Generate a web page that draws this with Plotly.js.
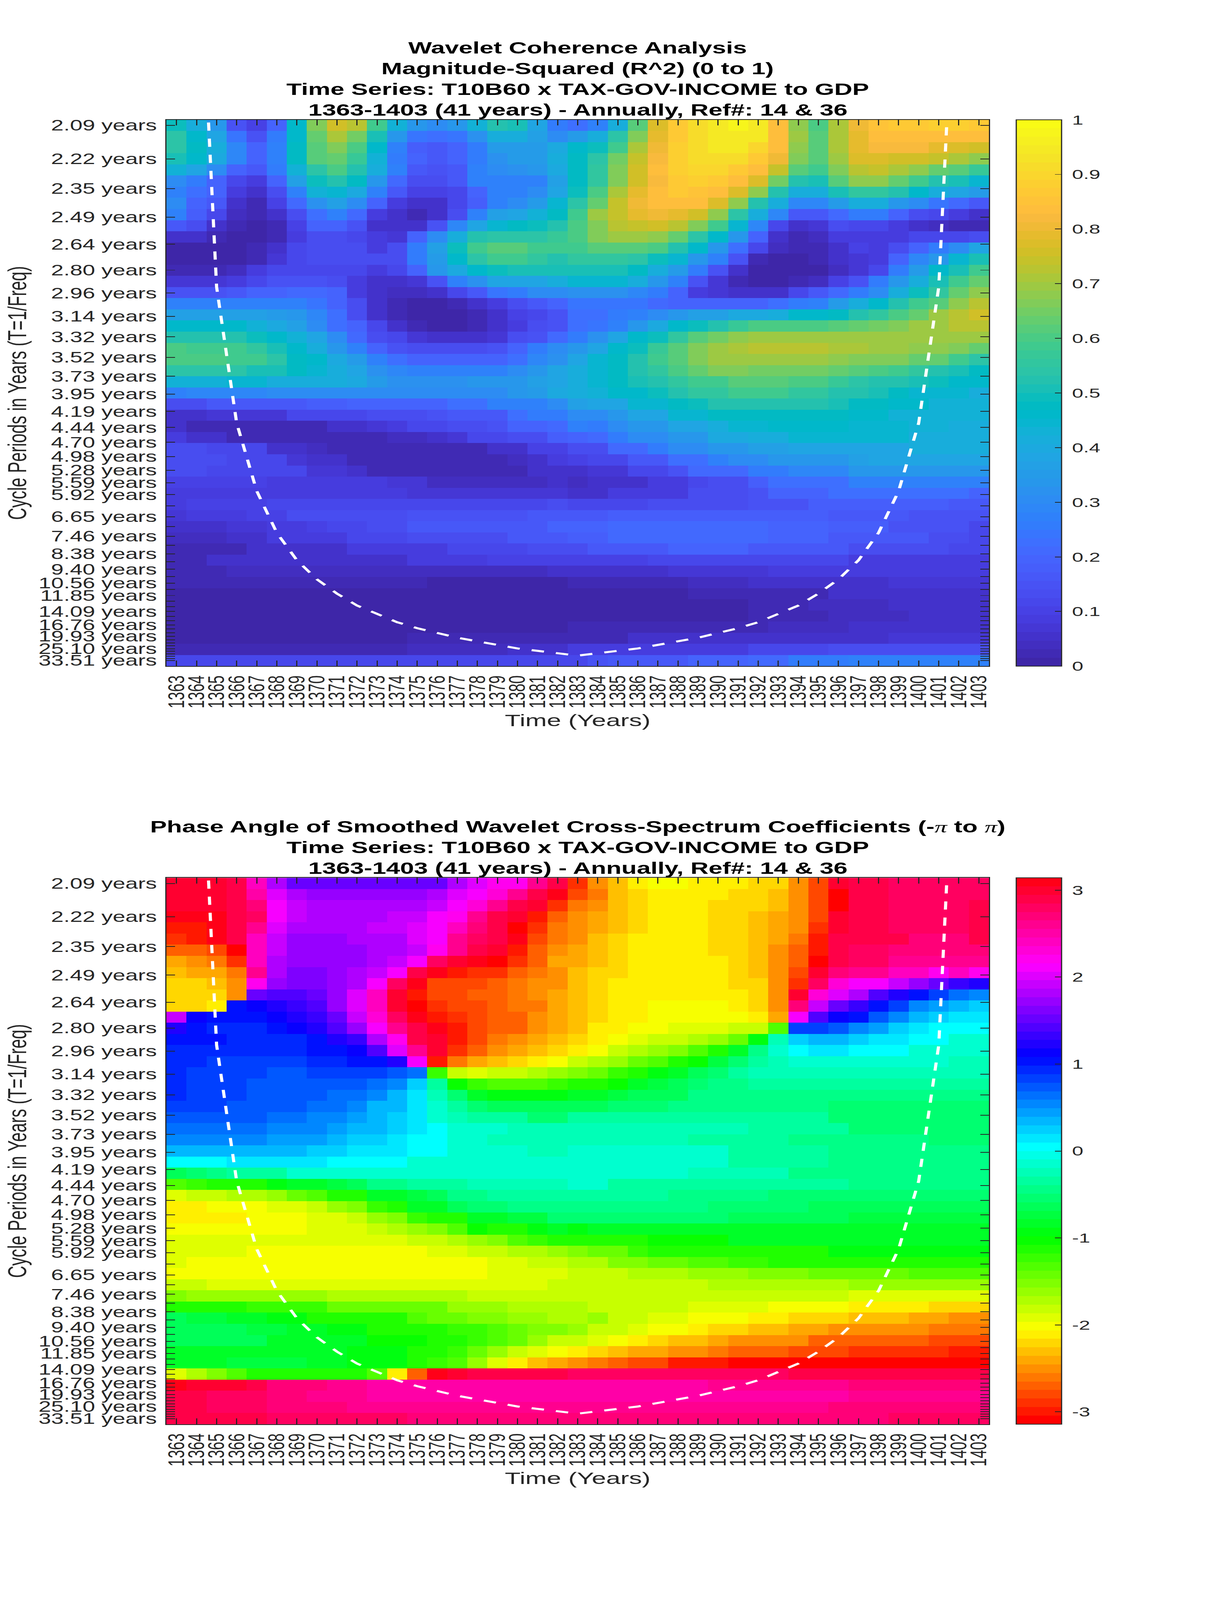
<!DOCTYPE html>
<html><head><meta charset="utf-8">
<script src="https://cdn.plot.ly/plotly-3.0.1.min.js"></script>
<style>html,body{margin:0;padding:0;background:#fff;overflow:hidden}#chart{transform-origin:0 0}</style></head>
<body><div id="chart" style="width:3125px;height:6252px"></div>
<script>
const years=[1363,1364,1365,1366,1367,1368,1369,1370,1371,1372,1373,1374,1375,1376,1377,1378,1379,1380,1381,1382,1383,1384,1385,1386,1387,1388,1389,1390,1391,1392,1393,1394,1395,1396,1397,1398,1399,1400,1401,1402,1403];
const periods=[2.09,2.22,2.35,2.49,2.64,2.80,2.96,3.14,3.32,3.52,3.73,3.95,4.19,4.44,4.70,4.98,5.28,5.59,5.92,6.27,6.65,7.04,7.46,7.90,8.38,8.88,9.40,9.96,10.56,11.19,11.85,12.55,13.30,14.09,14.93,15.82,16.76,17.76,18.81,19.93,21.12,22.37,23.70,25.10,26.60,28.18,29.85,31.63,33.51];
const labelledPeriods=[2.09,2.22,2.35,2.49,2.64,2.80,2.96,3.14,3.32,3.52,3.73,3.95,4.19,4.44,4.70,4.98,5.28,5.59,5.92,6.65,7.46,8.38,9.40,10.56,11.85,14.09,16.76,19.93,25.10,33.51];
const coiFreq=[0.686,0.686,0.343,0.229,0.172,0.137,0.114,0.098,0.086,0.076,0.069,0.062,0.057,0.053,0.049,0.046,0.043,0.040,0.038,0.036,0.034,0.036,0.038,0.040,0.043,0.046,0.049,0.053,0.057,0.062,0.069,0.076,0.086,0.098,0.114,0.137,0.172,0.229,0.343,0.686,0.686];
// Magnitude-squared coherence, in hundredths; rows run from period 2.09 down to 33.51
const coherencePct=[
[49,41,33,15,10,20,46,67,76,73,58,43,33,30,33,43,52,51,38,25,22,27,42,62,78,87,92,95,98,95,84,68,60,71,81,85,87,87,89,89,87],
[54,46,38,24,15,25,46,64,71,65,51,33,24,22,24,32,41,41,36,30,35,42,54,67,79,87,92,94,95,94,84,70,62,71,79,83,84,84,84,84,83],
[54,47,41,29,20,27,47,62,67,60,46,27,18,16,20,25,35,35,35,40,46,49,59,71,81,88,92,94,94,90,84,68,62,71,79,82,82,82,79,78,76],
[50,46,40,29,20,28,47,61,64,57,43,25,20,17,19,25,32,35,35,41,47,54,65,74,82,89,92,92,92,87,81,67,62,70,77,77,76,76,74,71,68],
[43,38,30,20,16,25,43,54,60,52,41,27,17,15,17,27,30,32,33,40,47,55,67,75,84,89,90,90,87,84,74,62,58,67,73,74,71,68,64,62,57],
[30,25,19,11,8,20,36,49,53,47,33,21,14,13,17,27,28,28,28,37,47,55,67,75,82,87,88,86,84,78,65,53,51,62,68,68,63,59,53,50,45],
[28,23,19,8,5,13,28,43,45,40,28,16,10,10,12,20,28,28,31,38,49,60,71,79,84,87,85,84,78,68,52,42,42,50,56,56,52,46,42,39,35],
[30,20,16,5,3,10,21,32,36,30,20,8,6,6,11,18,28,31,35,45,54,64,74,81,84,84,83,78,68,52,41,29,29,35,41,41,34,30,24,21,17],
[28,18,12,4,2,6,13,23,27,21,8,5,3,6,14,28,36,39,43,48,59,69,74,79,81,79,76,68,54,42,29,16,16,21,25,25,20,14,12,8,5],
[17,13,5,2,0,3,10,20,20,15,6,5,6,15,29,39,45,48,49,52,60,67,73,74,76,73,67,58,45,29,12,6,7,13,12,12,8,6,4,3,3],
[6,5,2,0,0,3,8,14,14,11,8,7,20,30,42,52,54,54,54,57,60,66,69,70,68,64,54,46,34,20,6,3,4,8,9,9,9,11,11,12,14],
[0,0,0,0,2,6,11,14,14,13,8,13,25,37,49,58,61,61,59,59,59,62,62,62,60,53,46,33,23,12,4,2,3,6,10,9,14,20,25,31,39],
[0,0,0,1,3,7,11,13,13,13,13,14,25,35,46,54,58,58,56,53,56,56,56,54,49,45,34,27,15,3,0,0,2,5,7,8,20,29,34,45,51],
[3,3,3,4,8,11,12,12,12,12,8,11,20,33,40,46,49,50,50,50,50,50,50,47,42,35,25,15,6,1,0,0,0,4,7,12,25,35,46,51,58],
[7,7,7,8,12,15,15,15,13,8,6,6,7,15,27,32,38,38,38,42,44,44,44,41,33,27,15,7,3,1,1,2,4,10,15,25,33,42,51,58,64],
[15,15,15,16,19,19,21,21,20,8,5,4,4,5,11,16,24,26,31,31,32,32,32,29,25,20,8,7,6,5,6,11,17,21,25,31,42,49,56,63,68],
[28,27,28,28,28,28,27,24,20,13,5,2,0,1,3,6,9,14,17,19,24,24,24,24,21,20,20,20,20,20,23,26,28,35,41,46,52,58,62,68,73],
[36,36,36,36,36,35,34,29,23,13,6,2,0,0,1,2,6,10,12,15,22,23,25,28,31,33,37,37,40,40,42,46,46,48,52,55,60,64,69,72,75],
[46,46,46,46,43,40,37,30,23,19,11,5,3,1,1,3,6,9,13,15,22,24,28,34,40,46,49,53,57,60,60,60,60,62,64,65,67,69,70,72,73],
[52,52,52,52,49,46,43,38,31,21,14,11,7,5,5,5,7,14,15,21,25,32,39,46,49,56,62,65,68,70,70,70,70,70,69,70,70,70,70,70,70],
[60,59,59,59,55,50,46,41,33,27,19,15,13,13,13,13,15,19,25,31,34,38,46,49,57,62,67,70,71,73,73,73,73,71,71,70,70,68,68,66,63],
[60,60,60,59,58,54,48,46,40,35,27,23,20,20,20,20,20,22,29,32,38,45,48,53,58,62,66,69,70,70,70,70,70,68,67,67,67,64,63,59,54],
[54,54,54,54,51,50,47,45,41,38,32,29,27,27,27,27,27,31,33,38,41,45,48,52,55,60,64,66,66,65,65,65,65,63,62,60,58,55,53,51,47],
[43,43,43,45,44,41,41,41,41,40,35,32,32,32,32,33,33,33,36,39,42,45,48,51,53,55,58,59,61,61,61,60,60,57,54,53,52,51,49,46,46],
[27,29,29,29,29,31,31,31,30,30,30,30,30,30,31,31,31,33,35,40,42,43,46,46,49,53,55,55,58,58,58,55,55,53,53,50,47,45,45,44,42],
[13,13,17,17,16,16,16,18,18,20,20,20,20,20,23,23,27,27,28,31,37,38,39,44,44,47,49,52,52,52,52,52,52,50,47,47,46,46,43,43,43],
[5,5,7,7,7,7,11,11,11,11,13,13,13,15,16,17,17,23,25,25,30,31,34,38,39,44,45,47,48,48,48,48,48,48,46,46,43,43,43,43,43],
[6,3,3,3,3,3,3,3,5,5,7,8,11,11,13,13,15,19,19,21,27,26,31,34,34,38,38,41,44,44,46,46,46,46,45,45,45,43,43,41,41],
[8,5,5,3,3,2,2,2,2,2,2,4,4,5,7,11,12,14,14,18,19,21,26,30,30,34,34,40,40,41,41,45,45,45,45,45,45,42,42,42,42],
[13,13,11,12,12,5,5,4,2,2,2,2,2,2,3,3,5,5,10,10,13,14,21,21,25,30,30,33,33,37,37,39,39,39,39,39,39,41,41,41,41],
[14,14,14,12,12,12,7,5,5,3,2,2,2,2,2,3,3,4,6,8,10,12,12,16,16,23,23,27,30,30,33,33,34,34,37,39,39,39,38,38,38],
[13,13,11,11,11,11,11,7,7,5,3,3,3,2,2,2,3,3,5,6,6,7,7,12,12,15,21,21,21,26,26,29,29,29,33,33,34,34,34,34,34],
[10,10,10,10,10,9,9,9,8,8,8,7,7,4,4,4,4,4,4,5,4,6,6,6,8,8,11,13,13,18,23,23,23,23,27,27,27,27,28,28,28],
[9,9,9,9,9,9,9,9,9,9,9,9,7,7,7,7,7,7,7,7,6,6,8,8,9,9,14,14,14,15,19,19,19,22,22,22,22,22,22,22,20],
[8,10,10,10,10,12,12,12,12,12,12,12,12,12,12,12,12,12,12,13,12,12,12,12,14,14,14,14,14,15,15,15,18,18,18,18,18,18,18,17,17],
[7,8,8,8,10,10,13,13,13,14,14,14,15,15,15,15,15,15,16,16,16,16,18,18,18,18,18,18,18,18,18,18,18,16,16,16,16,15,15,15,15],
[5,5,5,7,7,9,9,10,12,12,14,14,16,16,16,16,16,17,17,19,19,19,21,21,21,21,21,21,21,21,20,20,20,18,18,18,15,15,15,15,11],
[4,4,4,5,5,8,8,8,8,12,12,12,13,13,13,14,14,16,16,16,18,18,21,21,21,21,21,21,21,21,20,20,20,17,17,17,17,17,14,14,11],
[3,3,3,3,5,5,5,6,6,9,9,9,9,9,11,11,12,12,14,14,13,16,16,16,16,19,19,19,19,17,17,17,17,17,14,14,14,14,14,12,12],
[2,2,5,5,5,5,5,6,6,6,6,6,8,8,8,8,10,10,10,10,10,10,10,10,11,11,11,11,11,11,11,11,11,11,9,9,9,9,9,9,8],
[3,3,3,4,4,4,4,4,4,4,4,4,4,4,4,4,4,4,4,5,5,5,5,5,5,7,7,7,7,7,8,8,8,8,8,8,8,8,8,8,8],
[2,2,2,3,3,3,3,3,3,3,3,3,3,1,1,1,1,1,1,1,3,3,3,3,3,3,4,4,4,5,5,5,6,6,6,6,7,7,7,7,7],
[0,0,0,0,0,0,0,0,0,0,0,0,0,0,0,0,0,0,0,0,0,0,1,1,1,1,2,2,2,2,3,3,3,5,5,5,6,6,6,6,6],
[0,0,0,0,0,0,0,0,0,0,0,0,0,0,0,0,0,0,0,0,0,0,0,0,0,1,1,1,1,3,3,3,4,4,4,4,5,5,5,5,5],
[0,0,0,0,0,0,0,0,0,0,0,0,0,0,0,0,0,0,0,0,0,0,0,0,1,1,1,1,1,3,3,3,3,4,4,4,4,5,5,5,5],
[0,0,0,0,0,0,0,0,0,0,0,0,0,0,0,0,0,0,0,0,2,2,2,2,2,3,3,3,3,3,4,4,4,4,5,5,5,5,5,5,5],
[1,1,1,1,1,1,1,1,1,1,1,1,2,2,2,2,2,2,2,3,3,3,3,5,5,5,5,5,5,5,5,6,6,6,6,6,7,7,7,7,7],
[3,3,3,3,3,3,3,3,3,3,3,3,4,4,4,4,4,5,5,5,9,9,9,9,9,9,9,9,9,11,11,11,11,13,13,13,13,13,13,13,13],
[11,11,11,11,11,11,11,11,11,11,11,11,12,12,12,12,12,12,12,12,12,15,17,17,17,17,19,19,19,21,21,25,25,25,27,27,27,27,27,27,27]
];
// Phase angle, in tenths of a radian
const phaseTenths=[
[30,30,30,29,24,18,15,15,15,15,15,15,15,15,18,20,22,22,26,29,-29,-25,-23,-21,-20,-20,-21,-21,-21,-22,-22,-25,-28,30,29,29,28,28,28,28,28],
[30,30,30,29,25,20,18,17,17,17,17,17,17,18,20,21,23,26,29,31,-28,-26,-23,-22,-21,-21,-21,-21,-22,-22,-23,-25,-28,-31,29,29,28,28,28,28,28],
[30,30,30,29,27,21,19,18,18,18,18,18,18,19,21,23,26,29,30,-29,-26,-25,-23,-22,-21,-21,-21,-22,-22,-22,-23,-25,-28,-31,29,29,28,28,28,28,29],
[31,31,31,29,28,21,19,18,18,18,18,19,19,21,22,26,29,30,-30,-27,-25,-24,-23,-22,-21,-21,-21,-22,-22,-23,-24,-25,-28,30,29,29,28,28,28,28,29],
[-30,-30,31,29,26,20,18,18,18,18,19,19,20,21,24,27,29,-31,-29,-26,-25,-24,-23,-22,-21,-21,-21,-22,-22,-23,-24,-25,-29,30,29,29,28,28,28,28,29],
[-29,-30,31,29,24,19,17,17,17,18,18,18,20,21,26,28,29,31,-28,-26,-25,-23,-22,-21,-21,-21,-21,-22,-22,-23,-24,-26,-30,29,29,29,29,27,27,27,29],
[-27,-27,-28,-31,24,19,17,17,17,17,18,18,19,22,26,29,30,-30,-27,-25,-24,-23,-22,-21,-21,-21,-21,-22,-22,-23,-25,-27,-30,29,28,28,27,27,27,27,27],
[-24,-25,-26,-29,24,18,17,17,17,17,18,19,21,28,30,31,-31,-29,-27,-24,-24,-23,-22,-21,-21,-21,-21,-21,-22,-23,-25,-27,-31,29,28,28,26,26,26,26,26],
[-23,-24,-24,-26,26,18,16,16,17,18,19,21,29,31,-30,-29,-29,-27,-26,-25,-23,-22,-22,-21,-21,-21,-21,-21,-22,-23,-25,-28,30,27,26,26,24,24,22,24,22],
[-22,-22,-23,-25,22,17,16,16,17,18,21,28,31,-28,-28,-28,-27,-26,-25,-25,-23,-22,-21,-21,-21,-21,-21,-21,-22,-22,-25,-29,28,23,21,21,19,17,15,13,12],
[-22,-22,-22,-25,15,14,14,15,17,20,24,30,-30,-28,-28,-27,-27,-26,-25,-24,-23,-22,-21,-21,-21,-21,-21,-21,-21,-22,-25,30,23,20,18,14,12,10,8,6,5],
[-22,-22,-21,10,11,12,13,14,17,20,24,30,-31,-29,-28,-28,-27,-26,-26,-24,-23,-22,-21,-21,-20,-20,-20,-20,-21,-22,-25,27,19,15,13,10,8,5,4,3,2],
[19,11,10,10,10,11,12,13,15,19,23,28,31,-30,-29,-28,-27,-27,-25,-24,-23,-22,-21,-21,-20,-20,-20,-20,-20,-21,-24,21,14,11,10,7,5,3,2,1,1],
[12,10,9,9,9,10,11,12,14,17,21,26,29,31,-30,-28,-27,-27,-25,-24,-23,-21,-21,-20,-20,-19,-19,-19,-18,-18,-13,8,8,7,5,4,2,1,0,0,0],
[10,10,10,9,9,9,9,10,12,13,18,22,29,30,-30,-28,-26,-25,-24,-23,-22,-21,-20,-19,-18,-18,-17,-16,-14,-9,-2,2,3,3,2,1,1,0,0,-1,-1],
[9,9,9,9,9,9,9,10,10,11,14,20,26,30,-29,-27,-25,-24,-23,-22,-21,-20,-18,-17,-16,-15,-13,-11,-8,-4,-1,0,1,1,0,0,0,-1,-1,-1,-1],
[9,9,8,8,8,8,8,9,9,10,10,12,21,-30,-26,-24,-23,-22,-21,-20,-18,-17,-16,-14,-13,-11,-10,-7,-5,-3,-2,-1,-1,-1,-1,-1,-1,-1,-1,-2,-2],
[9,8,8,8,8,7,7,8,8,8,8,7,6,-12,-18,-19,-18,-18,-17,-16,-15,-14,-12,-11,-9,-8,-6,-5,-3,-2,-2,-2,-2,-2,-2,-2,-2,-2,-2,-2,-2],
[9,8,8,8,7,7,7,7,7,7,6,5,2,-3,-10,-12,-13,-13,-13,-12,-11,-11,-10,-8,-7,-6,-5,-4,-4,-3,-3,-3,-3,-3,-3,-3,-3,-3,-3,-3,-3],
[9,8,8,8,7,7,7,7,6,6,5,3,1,-2,-5,-8,-9,-9,-9,-9,-8,-8,-7,-6,-6,-6,-4,-4,-4,-4,-4,-4,-4,-4,-4,-4,-4,-4,-4,-4,-4],
[8,8,8,7,7,7,7,6,6,5,3,3,1,-1,-3,-5,-6,-6,-6,-6,-6,-6,-5,-5,-5,-4,-4,-4,-4,-4,-4,-4,-4,-5,-5,-5,-5,-5,-5,-5,-5],
[7,7,7,7,7,6,6,5,5,4,3,2,1,-1,-2,-3,-3,-3,-5,-5,-3,-3,-3,-3,-3,-3,-3,-3,-3,-3,-3,-3,-3,-5,-5,-5,-5,-5,-5,-5,-5],
[6,6,6,6,6,5,5,5,4,3,3,2,1,0,-1,-1,-1,-2,-2,-2,-2,-2,-2,-2,-2,-2,-2,-2,-2,-3,-3,-3,-3,-3,-5,-5,-5,-5,-5,-5,-5],
[5,5,5,5,5,4,4,4,3,2,2,1,0,0,-1,-1,-2,-2,-2,-2,-2,-2,-2,-2,-2,-2,-3,-3,-3,-3,-3,-4,-4,-4,-4,-4,-4,-4,-5,-5,-5],
[3,3,3,3,3,3,3,2,2,1,1,1,0,0,-1,-1,-1,-1,-2,-2,-1,-1,-1,-1,-1,-1,-1,-1,-3,-3,-3,-3,-3,-4,-4,-4,-4,-4,-4,-4,-4],
[0,0,0,1,1,1,1,1,0,0,0,0,-1,-1,-1,-1,-1,-1,-1,-1,-1,-1,-1,-1,-1,-1,-1,-1,-3,-3,-3,-3,-3,-4,-4,-4,-4,-4,-4,-4,-4],
[-6,-5,-4,-3,-3,-3,-1,-1,-1,-1,-1,-1,-1,-1,-1,-1,-1,-1,-1,-1,-1,-1,-1,-1,-1,-1,-2,-2,-2,-2,-2,-4,-4,-4,-4,-4,-4,-4,-4,-4,-4],
[-13,-12,-11,-11,-11,-9,-8,-8,-7,-6,-4,-4,-3,-3,-3,-2,-2,-2,-2,-2,-1,-1,-3,-3,-3,-3,-3,-3,-3,-3,-3,-3,-3,-3,-4,-4,-4,-4,-4,-4,-4],
[-19,-18,-18,-17,-17,-16,-14,-13,-11,-11,-8,-8,-7,-6,-4,-4,-3,-3,-3,-3,-3,-3,-3,-3,-3,-4,-4,-4,-4,-4,-5,-5,-5,-5,-5,-5,-5,-5,-5,-5,-5],
[-21,-21,-20,-20,-20,-19,-19,-18,-16,-15,-12,-11,-8,-8,-6,-5,-5,-4,-4,-4,-4,-4,-4,-4,-4,-4,-4,-5,-5,-5,-5,-5,-6,-6,-6,-6,-6,-6,-6,-6,-6],
[-21,-21,-21,-21,-20,-20,-20,-19,-19,-18,-16,-15,-12,-11,-11,-8,-8,-7,-7,-5,-5,-5,-5,-5,-5,-5,-5,-5,-6,-6,-6,-6,-6,-6,-7,-7,-7,-7,-7,-7,-7],
[-20,-20,-20,-20,-20,-20,-20,-19,-19,-19,-18,-17,-16,-15,-13,-10,-11,-11,-9,-8,-9,-8,-8,-8,-8,-8,-8,-8,-8,-8,-8,-8,-8,-8,-8,-8,-8,-8,-8,-8,-8],
[-19,-19,-19,-19,-19,-19,-19,-19,-19,-19,-19,-19,-18,-18,-17,-16,-15,-13,-12,-11,-11,-11,-11,-11,-10,-10,-10,-10,-8,-8,-8,-8,-8,-8,-8,-8,-8,-8,-8,-8,-8],
[-19,-19,-19,-19,-20,-20,-20,-20,-20,-20,-20,-20,-20,-19,-19,-18,-18,-17,-17,-16,-15,-14,-14,-12,-11,-11,-11,-11,-11,-11,-11,-11,-11,-9,-9,-9,-9,-9,-9,-9,-9],
[-19,-20,-20,-20,-20,-20,-20,-20,-20,-20,-20,-20,-20,-20,-20,-20,-19,-19,-18,-18,-17,-17,-15,-15,-14,-14,-13,-13,-12,-12,-11,-11,-11,-11,-11,-11,-11,-11,-11,-11,-11],
[-20,-20,-20,-20,-20,-20,-20,-20,-20,-20,-20,-20,-20,-20,-20,-20,-19,-19,-19,-19,-18,-18,-18,-17,-17,-17,-16,-16,-16,-15,-15,-15,-14,-14,-14,-14,-14,-13,-13,-13,-13],
[-18,-18,-19,-19,-19,-19,-19,-19,-19,-19,-19,-19,-19,-19,-19,-19,-19,-19,-19,-18,-18,-18,-18,-18,-18,-18,-18,-17,-17,-17,-17,-17,-17,-17,-16,-16,-16,-16,-16,-16,-16],
[-15,-16,-16,-16,-16,-16,-16,-16,-17,-17,-17,-17,-17,-17,-17,-18,-18,-18,-18,-18,-18,-18,-18,-18,-18,-18,-18,-18,-18,-18,-18,-18,-18,-18,-19,-19,-19,-19,-19,-19,-19],
[-11,-11,-11,-11,-12,-12,-12,-12,-14,-14,-14,-14,-14,-14,-16,-16,-16,-17,-17,-17,-17,-18,-18,-18,-18,-18,-19,-19,-19,-19,-20,-20,-20,-20,-21,-21,-21,-21,-22,-22,-22],
[-6,-7,-7,-8,-8,-9,-9,-11,-11,-11,-11,-11,-13,-14,-14,-15,-15,-16,-16,-17,-17,-16,-18,-18,-19,-19,-20,-20,-20,-21,-21,-22,-22,-22,-23,-23,-23,-24,-24,-25,-25],
[-6,-6,-6,-6,-7,-7,-8,-8,-9,-9,-11,-11,-11,-11,-12,-12,-13,-14,-15,-15,-16,-18,-18,-19,-20,-20,-21,-22,-22,-23,-23,-24,-24,-25,-25,-25,-25,-25,-26,-26,-26],
[-6,-6,-6,-6,-6,-8,-8,-8,-8,-8,-10,-10,-10,-11,-11,-12,-13,-14,-16,-18,-18,-19,-20,-21,-22,-23,-23,-24,-25,-25,-25,-25,-27,-27,-27,-27,-27,-27,-28,-28,-28],
[-8,-8,-8,-8,-8,-8,-8,-8,-8,-9,-9,-9,-11,-11,-12,-14,-16,-18,-19,-20,-21,-22,-23,-24,-24,-25,-25,-26,-27,-27,-27,-28,-28,-28,-29,-29,-29,-29,-29,-30,-30],
[-8,-8,-8,-7,-7,-7,-7,-8,-8,-9,-9,-9,-11,-12,-13,-16,-19,-21,-23,-24,-25,-26,-27,-28,-28,-30,-30,-30,-31,-31,-31,-31,-31,-31,-31,-31,-31,-31,-31,-31,-31],
[-19,-17,-15,-13,-11,-11,-11,-11,-11,-11,-13,-21,-27,31,30,29,29,29,29,29,28,28,28,28,28,28,28,28,28,28,28,29,29,29,29,29,29,29,29,29,29],
[31,30,30,30,29,27,27,27,26,26,25,25,25,25,25,25,25,25,25,25,25,25,25,25,25,25,25,26,26,26,26,26,26,26,27,27,27,27,27,27,27],
[29,29,28,28,28,27,27,26,26,26,25,25,25,25,25,25,25,25,25,25,25,25,25,25,25,25,25,25,25,25,25,25,25,25,26,26,26,26,26,26,26],
[29,29,28,28,28,27,27,27,27,26,26,26,26,26,26,26,26,26,26,26,26,26,26,26,26,26,26,26,26,26,26,26,26,27,27,27,27,27,27,27,27],
[29,29,29,29,29,28,28,28,28,28,28,28,27,27,27,27,27,27,27,27,27,27,27,27,27,27,27,27,27,27,27,27,27,27,27,27,28,28,28,28,28]
];
const titleTop=["Wavelet Coherence Analysis","Magnitude-Squared (R^2) (0 to 1)","Time Series: T10B60 x TAX-GOV-INCOME to GDP","1363-1403 (41 years) - Annually, Ref#: 14 & 36"];
const titleBottom=["Phase Angle of Smoothed Wavelet Cross-Spectrum Coefficients (-<span style=\"font-family:'Liberation Serif';font-weight:normal\"><i>π</i></span> to <span style=\"font-family:'Liberation Serif';font-weight:normal\"><i>π</i></span>)","Time Series: T10B60 x TAX-GOV-INCOME to GDP","1363-1403 (41 years) - Annually, Ref#: 14 & 36"];

const parula=[[.2422,.1504,.6603],[.2504,.165,.7076],[.2578,.1818,.7511],[.2647,.1978,.7952],[.2706,.2147,.8364],[.2751,.2342,.871],[.2783,.2559,.8991],[.2803,.2782,.9221],[.2813,.3006,.9414],[.281,.3228,.9579],[.2795,.3447,.9717],[.276,.3667,.9829],[.2699,.3892,.9906],[.2602,.4123,.9952],[.244,.4358,.9988],[.2206,.4603,.9973],[.1963,.4847,.9892],[.1834,.5074,.9798],[.1786,.5289,.9682],[.1764,.5499,.952],[.1687,.5703,.9359],[.154,.5902,.9218],[.146,.6091,.9079],[.138,.6276,.8973],[.1248,.6459,.8883],[.1113,.6635,.8763],[.0952,.6798,.8598],[.0689,.6948,.8394],[.0297,.7082,.8163],[.0036,.7203,.7917],[.0067,.7312,.766],[.0433,.7411,.7394],[.0964,.75,.712],[.1408,.7584,.6842],[.1717,.767,.6554],[.1938,.7758,.6251],[.2161,.7843,.5923],[.247,.7918,.5567],[.2906,.7973,.5188],[.3406,.8008,.4789],[.3909,.8029,.4354],[.4456,.8024,.3909],[.5044,.7993,.348],[.5616,.7942,.3045],[.6174,.7876,.2612],[.672,.7793,.2227],[.7242,.7698,.191],[.7738,.7598,.1646],[.8203,.7498,.1535],[.8634,.7406,.1596],[.9035,.733,.1774],[.9393,.7288,.21],[.9728,.7298,.2394],[.9956,.7434,.2371],[.997,.7659,.2199],[.9952,.7893,.2028],[.9892,.8136,.1885],[.9786,.8386,.1766],[.9676,.8639,.1643],[.961,.889,.1537],[.9597,.9135,.1423],[.9628,.9373,.1265],[.9691,.9606,.1064],[.9769,.9839,.0805]];
function stepScale(cols){const s=[];cols.forEach((c,i)=>{s.push([i/cols.length,c]);s.push([(i+1)/cols.length,c]);});return s;}
const parulaScale=stepScale(parula.map(c=>`rgb(${c.map(v=>Math.round(v*255)).join(',')})`));
const hsvScale=stepScale(Array.from({length:64},(_,i)=>`hsl(${i/64*360},100%,50%)`));

const W=3125,H=6252,L=426,R=2531,CB=2601,CBW=116,PH=2135;
const panelTops=[468,3430];
const ink='#262626';
const fx=p=>p/W, fy=p=>1-p/H;
const topF=0.4785,botF=0.02984,stepF=(topF-botF)/48;
const tickFont={family:'Liberation Sans, Arial, sans-serif',size:58,color:ink};
const axisTitleFont={family:'Liberation Sans, Arial, sans-serif',size:66,color:ink};
function xax(anchor){return {anchor,domain:[fx(L),fx(R)],range:[1362.5,1403.5],tickmode:'array',tickvals:years,ticktext:years.map(String),tickangle:-90,ticks:'inside',ticklen:22,tickwidth:3,tickcolor:ink,showline:true,linecolor:ink,linewidth:3,mirror:'allticks',showgrid:false,zeroline:false,tickfont:tickFont,ticklabelstandoff:10,title:{text:'Time (Years)',font:axisTitleFont,standoff:24}};}
function yax(anchor,t){return {anchor,domain:[fy(t+PH),fy(t)],range:[botF-stepF/2,topF+stepF/2],tickmode:'array',tickvals:periods.map(p=>1/p),ticktext:periods.map(p=>labelledPeriods.includes(p)?p.toFixed(2)+' years':''),ticks:'inside',ticklen:22,tickwidth:3,tickcolor:ink,showline:true,linecolor:ink,linewidth:3,mirror:'allticks',showgrid:false,zeroline:false,tickfont:tickFont,ticklabelstandoff:10,title:{text:'Cycle Periods in Years (T=1/Freq)',font:axisTitleFont,standoff:10}};}
function cbar(t,vals,ticktext){return {x:fx(CB),xanchor:'left',xpad:0,y:fy(t),yanchor:'top',ypad:0,lenmode:'pixels',len:PH,thicknessmode:'pixels',thickness:CBW,outlinecolor:ink,outlinewidth:3,ticks:'inside',ticklen:18,tickwidth:3,tickcolor:ink,tickmode:'array',tickvals:vals,ticktext:ticktext.map(s=>'\u00A0'+s),tickfont:{family:'Liberation Sans, Arial, sans-serif',size:52,color:ink}};}
const bar1=[0,.1,.2,.3,.4,.5,.6,.7,.8,.9,1], bar2=[-3,-2,-1,0,1,2,3];
const traces=[
 {type:'heatmap',x:years,y0:topF,dy:-stepF,z:coherencePct.map(r=>r.map(v=>v/100)),zmin:0,zmax:1,colorscale:parulaScale,xaxis:'x',yaxis:'y',zsmooth:false,colorbar:cbar(panelTops[0],bar1,bar1.map(String))},
 {type:'scatter',mode:'lines',x:years,y:coiFreq,xaxis:'x',yaxis:'y',line:{color:'#fff',width:8,dash:'32px,31px'},showlegend:false,hoverinfo:'skip'},
 {type:'heatmap',x:years,y0:topF,dy:-stepF,z:phaseTenths.map(r=>r.map(v=>v/10)),zmin:-Math.PI,zmax:Math.PI,colorscale:hsvScale,xaxis:'x2',yaxis:'y2',zsmooth:false,colorbar:cbar(panelTops[1],bar2,bar2.map(String))},
 {type:'scatter',mode:'lines',x:years,y:coiFreq,xaxis:'x2',yaxis:'y2',line:{color:'#fff',width:8,dash:'32px,31px'},showlegend:false,hoverinfo:'skip'}
];
function titleAnn(text,y){return {text,xref:'paper',yref:'paper',x:fx((L+R)/2),y:fy(y),xanchor:'center',yanchor:'middle',showarrow:false,font:{family:'Liberation Sans, Arial, sans-serif',size:64,color:'#000'}};}
const anns=[...titleTop.map((t,i)=>titleAnn('<b>'+t+'</b>',187+i*81)),...titleBottom.map((t,i)=>titleAnn('<b>'+t+'</b>',3231+i*81))];
const layout={width:W,height:H,margin:{l:0,r:0,t:0,b:0},paper_bgcolor:'#fff',plot_bgcolor:'#fff',showlegend:false,
 xaxis:xax('y'),yaxis:yax('x',panelTops[0]),xaxis2:xax('y2'),yaxis2:yax('x2',panelTops[1]),annotations:anns};
Plotly.newPlot('chart',traces,layout,{displayModeBar:false,responsive:false}).then(()=>{
  // The window may be shorter than the 6252 px figure: fit the figure's height to it so nothing is cut off.
  const fit=Math.min(1,window.innerHeight/H);
  if(fit<1){document.getElementById('chart').style.transform=`scale(1,${fit})`;document.documentElement.style.height=document.body.style.height=window.innerHeight+'px';}
});
</script></body></html>
